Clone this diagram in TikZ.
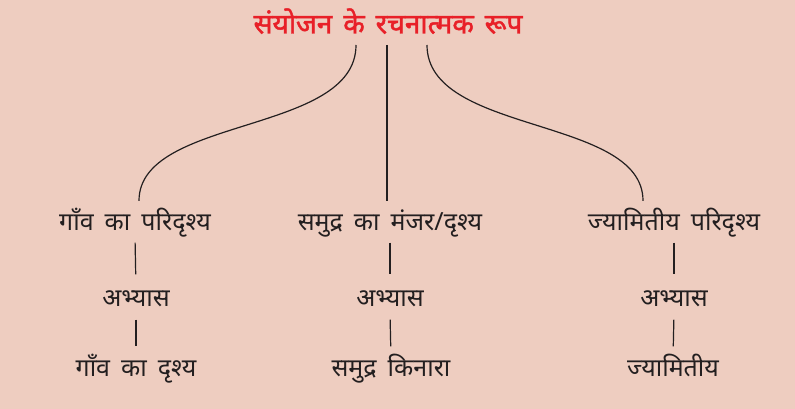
\documentclass[tikz,border=0pt]{standalone}
\usepackage{fontspec}
\usepackage{tikz}
\usetikzlibrary{calc,positioning}
\newfontfamily\devfont[Script=Devanagari,WordSpace=1.7]{Noto Sans}
\newfontfamily\devbold[Script=Devanagari,WordSpace=1.5,FakeBold=1.6]{Noto Sans}
\definecolor{PaperColor}{RGB}{238,205,192}
\definecolor{TitleRed}{RGB}{232,32,40}
\definecolor{InkColor}{RGB}{35,31,32}
\tikzset{
  lbl/.style={font=\devfont\fontsize{25}{28}\selectfont, text=InkColor, inner sep=0pt, text height=17pt, text depth=6pt},
  link/.style={draw=InkColor, line width=1.2pt},
}
\begin{document}
\begin{tikzpicture}[x=1pt,y=1pt]
      \fill[PaperColor] (0,0) rectangle (795,-409);
      \useasboundingbox (0,0) rectangle (795,-409);
      % title
      \node[lbl, text=TitleRed, font=\devbold\fontsize{28}{32}\selectfont] (title) at (388,-28) {संयोजन के रचनात्मक रूप};
      \coordinate (tl) at (356,-45);
      \coordinate (tm) at (387,-45);
      \coordinate (tr) at (427,-45);
      % first row
      \node[lbl] (vil1) at (135,-225) {गाँव का परिदृश्य};
      \node[lbl] (sea1) at (390,-225) {समुद्र का मंजर/दृश्य};
      \node[lbl] (geo1) at (674,-225) {ज्यामितीय परिदृश्य};
      % second row
      \node[lbl] (vil2) at (136,-301) {अभ्यास};
      \node[lbl] (sea2) at (390,-301) {अभ्यास};
      \node[lbl] (geo2) at (674,-301) {अभ्यास};
      % third row
      \node[lbl] (vil3) at (136,-371) {गाँव का दृश्य};
      \node[lbl] (sea3) at (391,-371) {समुद्र किनारा};
      \node[lbl] (geo3) at (673,-371) {ज्यामितीय};
      % connectors from the title
      \draw[link] (tl) .. controls +(0,-90) and +(0,85) .. ([xshift=4pt,yshift=12.5pt]vil1.north);
      \draw[link] (tm) -- ([xshift=-3pt,yshift=12.5pt]sea1.north);
      \draw[link] (tr) .. controls +(0,-90) and +(0,85) .. ([xshift=-31pt,yshift=12.5pt]geo1.north);
      % columns
      \foreach \col in {vil,sea,geo}{
        \draw[link, shorten <=6pt, shorten >=15pt] (\col1.south) -- (\col2.north);
        \draw[link, shorten <=7pt, shorten >=13pt] (\col2.south) -- (\col3.north);
      }
    \end{tikzpicture}
\end{document}
